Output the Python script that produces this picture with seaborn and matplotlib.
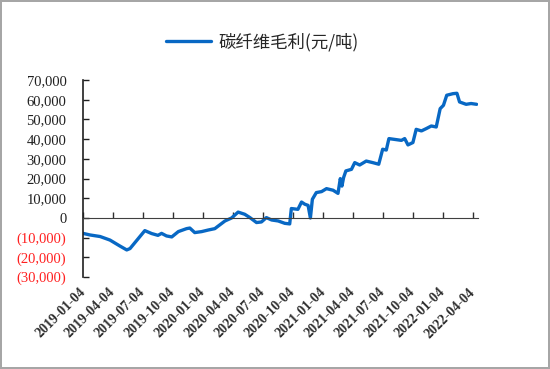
import pandas as pd
import numpy as np
import matplotlib.pyplot as plt
import matplotlib.dates as mdates
from matplotlib.ticker import FuncFormatter
import seaborn as sns

# ---- data ----
dates = ["2019-01-04", "2019-01-25", "2019-02-25", "2019-03-27", "2019-04-26",
         "2019-05-17", "2019-05-27", "2019-07-11", "2019-08-01", "2019-08-20",
         "2019-08-31", "2019-09-15", "2019-10-01", "2019-10-21", "2019-11-15",
         "2019-11-25", "2019-12-10", "2019-12-31", "2020-01-20", "2020-02-09",
         "2020-03-11", "2020-03-31", "2020-04-20", "2020-05-10", "2020-05-26",
         "2020-06-15", "2020-06-30", "2020-07-15", "2020-07-31", "2020-08-20",
         "2020-09-09", "2020-09-24", "2020-09-29", "2020-10-19", "2020-10-30",
         "2020-11-09", "2020-11-19", "2020-11-26", "2020-12-02", "2020-12-14",
         "2020-12-30", "2021-01-14", "2021-02-03", "2021-02-18", "2021-02-25",
         "2021-03-02", "2021-03-07", "2021-03-14", "2021-03-31", "2021-04-10",
         "2021-04-25", "2021-05-15", "2021-06-04", "2021-06-22", "2021-07-04",
         "2021-07-15", "2021-07-23", "2021-08-09", "2021-08-30", "2021-09-09",
         "2021-09-19", "2021-10-04", "2021-10-14", "2021-10-30", "2021-11-14",
         "2021-11-29", "2021-12-14", "2021-12-26", "2022-01-05", "2022-01-15",
         "2022-02-03", "2022-02-15", "2022-02-23", "2022-03-15", "2022-03-30",
         "2022-04-16"]
margin = [-7800, -8600, -9400, -11200, -14200,
          -16200, -15500, -6400, -7900, -8800,
          -7800, -9100, -9600, -6900, -5400,
          -5100, -7400, -6900, -6100, -5400,
          -1500, 0, 3000, 1900, 200,
          -2300, -2000, 200, -1000, -1500,
          -2700, -3000, 4800, 4400, 8100,
          7000, 6400, 0, 9500, 12900,
          13400, 14900, 14100, 12500, 20000,
          16200, 20500, 23900, 24700, 28100,
          26900, 28900, 28100, 27300, 34900,
          34500, 40300, 39900, 39400, 40300,
          37100, 38300, 45000, 44200, 45400,
          46700, 46200, 55500, 57200, 62300,
          63100, 63300, 58900, 57700, 58100,
          57700]
tick_dates = ["2019-01-04", "2019-04-04", "2019-07-04", "2019-10-04",
              "2020-01-04", "2020-04-04", "2020-07-04", "2020-10-04",
              "2021-01-04", "2021-04-04", "2021-07-04", "2021-10-04",
              "2022-01-04", "2022-04-04"]
series_name = "碳纤维毛利(元/吨)"

df = pd.DataFrame({"date": pd.to_datetime(dates), "value": margin})

sns.set_style("white")
plt.rcParams["font.family"] = ["Liberation Serif", "DejaVu Sans"]

fig, ax = plt.subplots(figsize=(5.5, 3.69), dpi=100)
fig.subplots_adjust(left=0.151, right=0.869, bottom=0.249, top=0.783)
fig.patch.set_edgecolor("#A6A6A6")
fig.patch.set_linewidth(1.5)

sns.lineplot(data=df, x="date", y="value", ax=ax, color="#0868C4",
             linewidth=2.4, label=series_name)

ax.set_ylim(-30000, 70000)
ax.set_yticks(np.arange(-30000, 70001, 10000))
ax.set_xlim(pd.Timestamp("2019-01-04"), pd.Timestamp("2022-04-20"))
ax.set_xticks(pd.to_datetime(tick_dates))
ax.xaxis.set_major_formatter(mdates.DateFormatter("%Y-%m-%d"))


def fmt(v, pos):
    if v < 0:
        return f"({abs(v):,.0f})"
    return f"{v:,.0f}"


ax.yaxis.set_major_formatter(FuncFormatter(fmt))
ax.set_xlabel("")
ax.set_ylabel("")

for s in ["top", "right"]:
    ax.spines[s].set_visible(False)
ax.spines["bottom"].set_position(("data", 0))
ax.spines["bottom"].set_color("#404040")
ax.spines["left"].set_color("#202020")
ax.spines["left"].set_linewidth(1.2)

ax.tick_params(axis="y", direction="in", length=4, width=1, pad=12,
               labelsize=10.5, colors="#202020", left=True)
ax.tick_params(axis="x", direction="in", length=4, width=1, pad=52,
               labelsize=10, colors="#303030", bottom=True)
for lab in ax.get_xticklabels():
    lab.set_rotation(45)
    lab.set_ha("right")
    lab.set_va("center")
    lab.set_rotation_mode("anchor")
    lab.set_fontweight("bold")
for lab, v in zip(ax.get_yticklabels(), ax.get_yticks()):
    if v < 0:
        lab.set_color("#FF2020")

ax.get_legend().remove()
fig.legend(loc="center", bbox_to_anchor=(0.477, 0.886), frameon=False,
           prop={"family": ["Noto Sans CJK SC", "DejaVu Sans"], "size": 12.5},
           handlelength=2.6, handletextpad=0.4)

fig.savefig("out.png", dpi=100, edgecolor=fig.get_edgecolor())
